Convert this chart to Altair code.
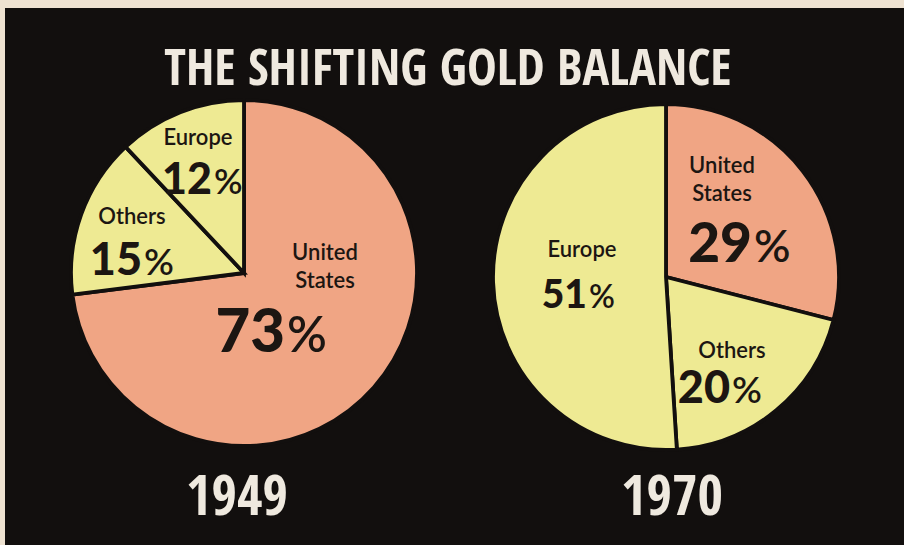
import altair as alt
import pandas as pd

# ---------------- data ----------------
years = ["1949", "1970"]
regions = ["United States", "Others", "Europe"]
share_1949 = [73, 15, 12]
share_1970 = [29, 20, 51]
title_text = "THE SHIFTING GOLD BALANCE"

# ---------------- style / layout ----------------
W, H = 904, 545
BG_PAPER = "#eee2d1"
BG_DARK = "#120f0e"
SALMON = "#f0a584"
YELLOW = "#eeea93"
INK = "#1c1612"
WHITE = "#efe9df"
LABEL_FONT = "Lato"
TITLE_FONT = "Open Sans Condensed"

centers = {"1949": (244, 273), "1970": (666, 277)}
RADIUS = 173

# label layout per (year, region): name center x, name baseline(s), pct split x, pct baseline, pct size
label_layout = {
    ("1949", "United States"): dict(nx=325, ny=[260, 288], px=285, py=352, ps=60),
    ("1949", "Europe"): dict(nx=198, ny=[145], px=212, py=194, ps=43),
    ("1949", "Others"): dict(nx=132, ny=[224], px=142, py=275, ps=45),
    ("1970", "United States"): dict(nx=722, ny=[173, 201], px=752, py=262, ps=55),
    ("1970", "Europe"): dict(nx=582, ny=[257], px=587, py=308, ps=39),
    ("1970", "Others"): dict(nx=732, ny=[358], px=730, py=403, ps=45),
}
year_pos = {"1949": (237, 515), "1970": (672, 515)}

# ---------------- tables ----------------
rows = []
for y, shares in zip(years, [share_1949, share_1970]):
    for i, (r, s) in enumerate(zip(regions, shares)):
        rows.append({"year": y, "region": r, "share": s, "order": i})
df = pd.DataFrame(rows)

name_rows, num_rows, pct_rows = [], [], []
for rec in rows:
    lay = label_layout[(rec["year"], rec["region"])]
    words = rec["region"].split(" ") if len(lay["ny"]) > 1 else [rec["region"]]
    for w, yy in zip(words, lay["ny"]):
        name_rows.append({"t": w, "px": lay["nx"], "py": yy})
    num_rows.append({"t": str(rec["share"]), "px": lay["px"], "py": lay["py"], "fs": lay["ps"]})
    pct_rows.append({"t": "%", "px": lay["px"] + 2, "py": lay["py"], "fs": lay["ps"] * 0.82})

names_df = pd.DataFrame(name_rows)
nums_df = pd.DataFrame(num_rows)
pcts_df = pd.DataFrame(pct_rows)
years_df = pd.DataFrame({"t": years, "px": [year_pos[y][0] for y in years],
                         "py": [year_pos[y][1] for y in years]})
title_df = pd.DataFrame({"t": [title_text], "px": [448], "py": [85]})

X = lambda f: alt.X(f, scale=None, axis=None)
Y = lambda f: alt.Y(f, scale=None, axis=None)

# ---------------- layers ----------------
one = pd.DataFrame({"a": [0]})
dark_panel = alt.Chart(one).mark_rect(color=BG_DARK).encode(
    x=alt.value(5), x2=alt.value(W), y=alt.value(8), y2=alt.value(H)
)

pies = []
for y in years:
    cx, cy = centers[y]
    pies.append(
        alt.Chart(df)
        .transform_filter(alt.datum.year == y)
        .mark_arc(outerRadius=RADIUS, stroke=BG_DARK, strokeWidth=3.8, strokeJoin="miter")
        .encode(
            theta=alt.Theta("share:Q", stack=True),
            color=alt.Color("region:N", scale=alt.Scale(domain=regions, range=[SALMON, YELLOW, YELLOW]),
                            legend=None),
            order=alt.Order("order:Q"),
            x=alt.value(cx),
            y=alt.value(cy),
        )
    )

names = alt.Chart(names_df).mark_text(
    font=LABEL_FONT, fontSize=22, fontWeight=600, color=INK, align="center", baseline="alphabetic"
).encode(x=X("px:Q"), y=Y("py:Q"), text="t:N")

nums = alt.Chart(nums_df).mark_text(
    font=LABEL_FONT, fontWeight=900, color=INK, align="right", baseline="alphabetic"
).encode(x=X("px:Q"), y=Y("py:Q"), text="t:N", size=alt.Size("fs:Q", scale=None, legend=None))

pcts = alt.Chart(pcts_df).mark_text(
    font=LABEL_FONT, fontWeight=600, color=INK, align="left", baseline="alphabetic"
).encode(x=X("px:Q"), y=Y("py:Q"), text="t:N", size=alt.Size("fs:Q", scale=None, legend=None))

title = alt.Chart(title_df).mark_text(
    font=TITLE_FONT, fontSize=50, fontWeight="bold", color=WHITE, align="center", baseline="alphabetic"
).encode(x=X("px:Q"), y=Y("py:Q"), text="t:N")

year_labels = alt.Chart(years_df).mark_text(
    font=TITLE_FONT, fontSize=55, fontWeight="bold", color=WHITE, align="center", baseline="alphabetic"
).encode(x=X("px:Q"), y=Y("py:Q"), text="t:N")

chart = (
    alt.layer(dark_panel, *pies, names, nums, pcts, title, year_labels)
    .resolve_scale(theta="independent", size="independent")
    .properties(width=W, height=H, padding=0, background=BG_PAPER,
                autosize=alt.AutoSizeParams(type="none"))
    .configure_view(stroke=None)
)

chart.save("out.html", embed_options={"renderer": "svg", "actions": False})
